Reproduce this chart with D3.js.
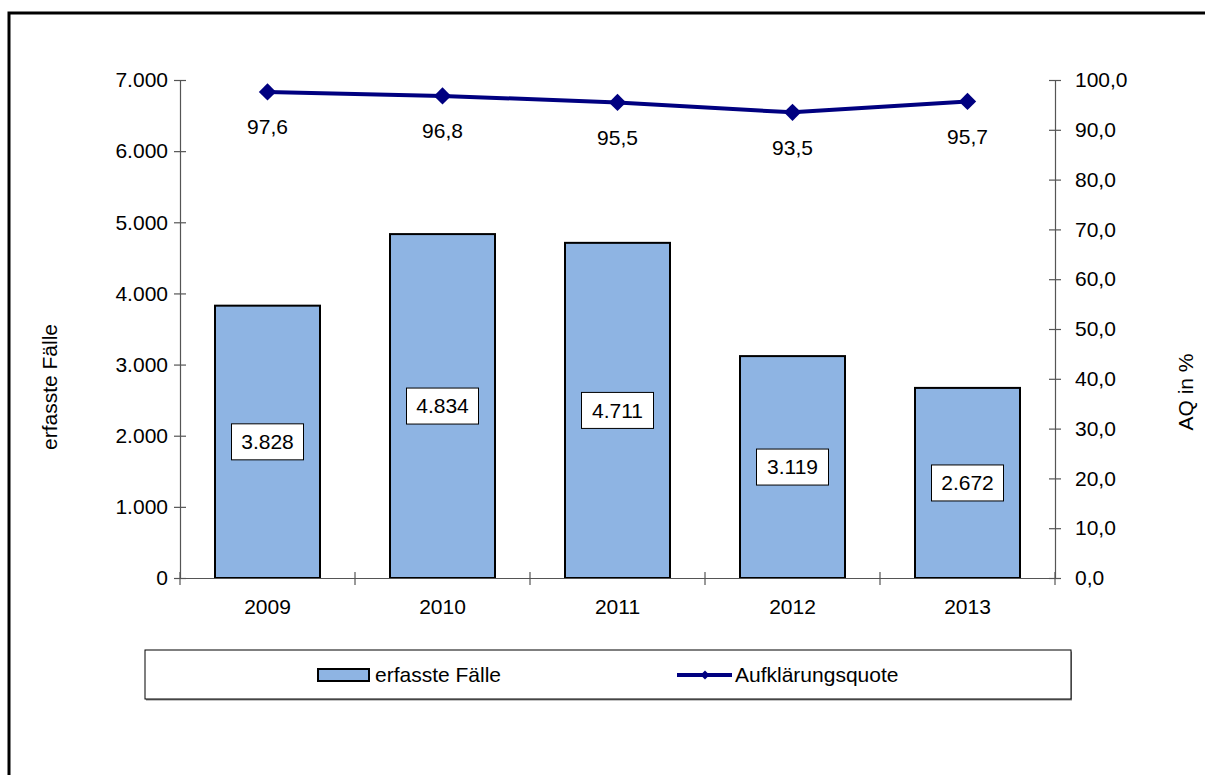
<!DOCTYPE html>
<html>
<head>
<meta charset="utf-8">
<script src="https://cdn.jsdelivr.net/npm/d3@7"></script>
<style>
  html, body { margin: 0; background: #fff; overflow: hidden; }
  svg { display: block; font-family: "Liberation Sans", Arial, sans-serif; }
</style>
</head>
<body>
<svg id="chart" width="1205" height="775"></svg>
<script>
const years = ["2009", "2010", "2011", "2012", "2013"];
const cases = [3828, 4834, 4711, 3119, 2672];
const quote = [97.6, 96.8, 95.5, 93.5, 95.7];
const leftTicks = [0, 1000, 2000, 3000, 4000, 5000, 6000, 7000];
const rightTicks = [0, 10, 20, 30, 40, 50, 60, 70, 80, 90, 100];

const de = d3.formatLocale({ decimal: ",", thousands: ".", grouping: [3], currency: ["", " €"] });
const fmtInt = de.format(",d");
const fmt1 = de.format(",.1f");

const FS = 21;
const margin = { top: 80, right: 150, bottom: 197, left: 180 };
const width = 1055 - margin.left;
const height = 578 - margin.top;

const svg = d3.select("#chart");

// outer frame (partly outside the picture)
svg.append("path")
  .attr("d", "M9,790 L9,13 L1210,13")
  .attr("fill", "none").attr("stroke", "#000").attr("stroke-width", 3);

const g = svg.append("g").attr("transform", `translate(${margin.left},${margin.top})`);

const x = d3.scaleBand().domain(years).range([0, width]).paddingInner(0.4).paddingOuter(0.2);
const xTicks = d3.scaleBand().domain(years).range([0, width]);
const y = d3.scaleLinear().domain([0, 7000]).range([height, 0]);
const y2 = d3.scaleLinear().domain([0, 100]).range([height, 0]);

// bars
g.selectAll("rect.bar")
  .data(cases)
  .join("rect")
  .attr("class", "bar")
  .attr("x", (d, i) => x(years[i]))
  .attr("y", d => y(d))
  .attr("width", x.bandwidth())
  .attr("height", d => height - y(d))
  .attr("fill", "#8eb4e3")
  .attr("stroke", "#000")
  .attr("stroke-width", 2);

// axes
const axisColor = "#555";
const leftAxis = g.append("g")
  .call(d3.axisLeft(y).tickValues(leftTicks).tickFormat(fmtInt).tickSizeInner(6).tickSizeOuter(0).tickPadding(6));
const rightAxis = g.append("g")
  .attr("transform", `translate(${width},0)`)
  .call(d3.axisRight(y2).tickValues(rightTicks).tickFormat(fmt1).tickSizeInner(6).tickSizeOuter(0).tickPadding(14));
const bottomAxis = g.append("g")
  .attr("transform", `translate(0,${height})`)
  .call(d3.axisBottom(xTicks).tickValues([]).tickSizeOuter(0));

[leftAxis, rightAxis, bottomAxis].forEach(a => {
  a.select(".domain").attr("stroke", axisColor).attr("stroke-width", 1.2);
  a.selectAll(".tick line").attr("stroke", axisColor).attr("stroke-width", 1.2);
  a.selectAll("text").attr("font-size", FS).attr("fill", "#000")
    .attr("font-family", "Liberation Sans, Arial, sans-serif");
});
// cross ticks
leftAxis.selectAll(".tick line").attr("x1", 6);
rightAxis.selectAll(".tick line").attr("x1", -6);

// x category ticks (crossing)
const catEdges = years.map(d => xTicks(d)).concat([width]);
g.append("g").selectAll("line")
  .data(catEdges)
  .join("line")
  .attr("x1", d => d).attr("x2", d => d)
  .attr("y1", height - 6).attr("y2", height + 7)
  .attr("stroke", axisColor).attr("stroke-width", 1.2);

g.append("g").selectAll("text")
  .data(years)
  .join("text")
  .attr("x", d => x(d) + x.bandwidth() / 2)
  .attr("y", height + 29)
  .attr("dy", "0.35em")
  .attr("text-anchor", "middle")
  .attr("font-size", FS)
  .text(d => d);

// bar value labels
const lbl = g.append("g").selectAll("g")
  .data(cases)
  .join("g")
  .attr("transform", (d, i) => `translate(${x(years[i]) + x.bandwidth() / 2},${(y(d) + height) / 2})`);
lbl.append("rect")
  .attr("x", -36).attr("y", -18)
  .attr("width", 72).attr("height", 36)
  .attr("fill", "#fff").attr("stroke", "#000").attr("stroke-width", 1);
lbl.append("text")
  .attr("text-anchor", "middle").attr("dy", "0.35em")
  .attr("font-size", FS)
  .text(d => fmtInt(d));

// line
const line = d3.line()
  .x((d, i) => x(years[i]) + x.bandwidth() / 2)
  .y(d => y2(d));
g.append("path")
  .datum(quote)
  .attr("d", line)
  .attr("fill", "none")
  .attr("stroke", "#000080")
  .attr("stroke-width", 4);

const marker = d3.symbol().type(d3.symbolSquare).size(150);
g.append("g").selectAll("path")
  .data(quote)
  .join("path")
  .attr("transform", (d, i) => `translate(${x(years[i]) + x.bandwidth() / 2},${y2(d)}) rotate(45)`)
  .attr("d", marker)
  .attr("fill", "#000080");

g.append("g").selectAll("text")
  .data(quote)
  .join("text")
  .attr("x", (d, i) => x(years[i]) + x.bandwidth() / 2)
  .attr("y", d => y2(d) + 35)
  .attr("dy", "0.35em")
  .attr("text-anchor", "middle")
  .attr("font-size", FS)
  .text(d => fmt1(d));

// axis titles
svg.append("text")
  .attr("transform", "translate(50,387) rotate(-90)")
  .attr("text-anchor", "middle")
  .attr("dy", "0.35em")
  .attr("font-size", FS)
  .text("erfasste Fälle");
svg.append("text")
  .attr("transform", "translate(1186,392) rotate(-90)")
  .attr("text-anchor", "middle")
  .attr("dy", "0.35em")
  .attr("font-size", FS)
  .text("AQ in %");

// legend
const legend = svg.append("g").attr("transform", "translate(145,650)");
legend.append("rect")
  .attr("x", 1).attr("y", 1.5).attr("width", 926).attr("height", 49)
  .attr("fill", "#888");
legend.append("rect")
  .attr("x", 0).attr("y", 0).attr("width", 926).attr("height", 49)
  .attr("fill", "#fff").attr("stroke", "#000").attr("stroke-width", 1);
legend.append("rect")
  .attr("x", 173).attr("y", 19).attr("width", 51).attr("height", 12)
  .attr("fill", "#8eb4e3").attr("stroke", "#000").attr("stroke-width", 2);
legend.append("text")
  .attr("x", 230).attr("y", 25).attr("dy", "0.35em")
  .attr("font-size", FS)
  .text("erfasste Fälle");
legend.append("line")
  .attr("x1", 532).attr("x2", 587).attr("y1", 25).attr("y2", 25)
  .attr("stroke", "#000080").attr("stroke-width", 4);
legend.append("path")
  .attr("transform", "translate(560,25) rotate(45)")
  .attr("d", d3.symbol().type(d3.symbolSquare).size(40))
  .attr("fill", "#000080");
legend.append("text")
  .attr("x", 590).attr("y", 25).attr("dy", "0.35em")
  .attr("font-size", FS)
  .text("Aufklärungsquote");
</script>
</body>
</html>
